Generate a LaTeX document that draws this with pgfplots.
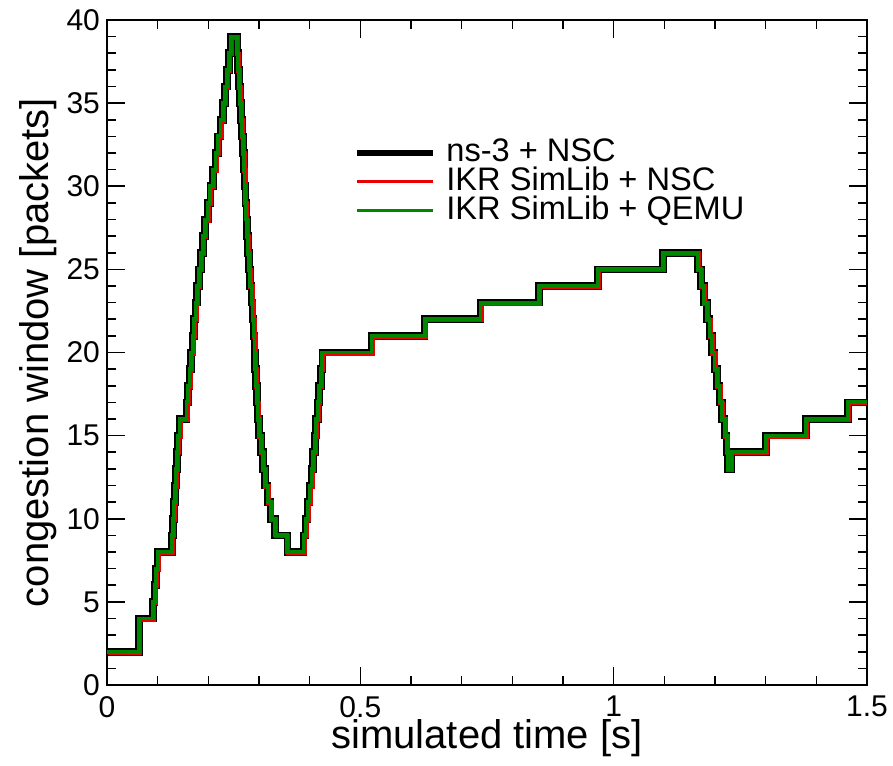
\documentclass[border=0pt]{standalone}
\usepackage{fontspec}
\setmainfont{Liberation Sans}
\usepackage{pgfplots}
\usepackage{pgfplotstable}
\pgfplotsset{compat=1.18}
\definecolor{ngreen}{RGB}{0,135,0}
\definecolor{nred}{RGB}{235,0,0}
\pgfplotstableread{
t v
0 2
0.063 4
0.091 5
0.094 6
0.097 7
0.100 8
0.128 9
0.130 10
0.132 11
0.134 12
0.136 13
0.138 14
0.140 15
0.143 16
0.157 17
0.160 18
0.163 19
0.166 20
0.169 21
0.172 22
0.175 23
0.178 24
0.182 25
0.186 26
0.190 27
0.194 28
0.199 29
0.204 30
0.209 31
0.214 32
0.219 33
0.224 34
0.229 35
0.233 36
0.237 37
0.241 38
0.245 39
0.256 38
0.258 37
0.260 36
0.262 35
0.264 34
0.266 33
0.268 32
0.270 31
0.2715 30
0.273 29
0.275 28
0.2765 27
0.278 26
0.280 25
0.2825 24
0.285 23
0.287 22
0.289 21
0.291 20
0.2925 19
0.294 18
0.2955 17
0.297 16
0.300 15
0.304 14
0.308 13
0.312 12
0.317 11
0.323 10
0.332 9
0.356 8
0.388 9
0.392 10
0.396 11
0.400 12
0.404 13
0.407 14
0.410 15
0.413 16
0.416 17
0.419 18
0.422 19
0.425 20
0.522 21
0.627 22
0.737 23
0.853 24
0.969 25
1.097 26
1.166 25
1.172 24
1.178 23
1.184 22
1.189 21
1.194 20
1.199 19
1.204 18
1.209 17
1.214 16
1.219 15
1.223 14
1.226 13
1.232 14
1.301 15
1.380 16
1.462 17
1.5 17
}\cwnd
\begin{document}
\begin{tikzpicture}
\begin{axis}[name=ax,
  scale only axis, width=380pt, height=332.5pt,
  xmin=0, xmax=1.5, ymin=0, ymax=40,
  xtick={0,0.5,1,1.5}, xticklabels={0,0.5,1,1.5}, minor x tick num=4,
  ytick={0,5,...,40}, minor y tick num=4,
  tick align=inside, major tick length=9pt, minor tick length=4.5pt,
  axis line style={line width=1pt},
  every tick/.style={black, line width=0.8pt},
  /pgf/number format/assume math mode=true,
  tick label style={font=\fontsize{15}{15}\selectfont},
  xticklabel style={yshift=-2pt, text depth=0pt},
  label style={font=\fontsize{20}{20}\selectfont},
  xlabel={simulated time [s]}, ylabel={congestion window [packets]},
  xlabel style={at={(axis description cs:0.5,0)}, anchor=base, yshift=-31.5pt},
  ylabel style={yshift=-2pt},
  legend cell align=left,
  legend style={draw=none, fill=none, at={(0.325,0.823)}, anchor=north west,
    font=\fontsize{16.3}{16.3}\selectfont, row sep=0pt, inner sep=0pt,
    nodes={inner ysep=0pt, text height=11.5pt, text depth=3pt}},
  legend image code/.code={\draw[#1] (0pt,0pt) -- (38pt,0pt); \path (41pt,0pt);},
  line join=miter,
]
\addlegendimage{black, line width=3pt}
\addlegendentry{ns-3 + NSC}
\addlegendimage{nred, line width=1.5pt}
\addlegendentry{IKR SimLib + NSC}
\addlegendimage{ngreen, line width=1.5pt}
\addlegendentry{IKR SimLib + QEMU}
\addplot[forget plot, const plot, black, line width=3.8pt, line join=miter] table[x=t,y=v] {\cwnd};
\addplot[forget plot, const plot, nred, line width=2.4pt, line join=miter, xshift=0.35pt, yshift=-0.35pt] table[x=t,y=v] {\cwnd};
\addplot[forget plot, const plot, ngreen, line width=1.9pt, line join=miter] table[x=t,y=v] {\cwnd};
\end{axis}
\pgfresetboundingbox
\useasboundingbox ([xshift=-53.5pt,yshift=-40pt]ax.south west) rectangle ([xshift=13pt,yshift=10pt]ax.north east);
\end{tikzpicture}
\end{document}
